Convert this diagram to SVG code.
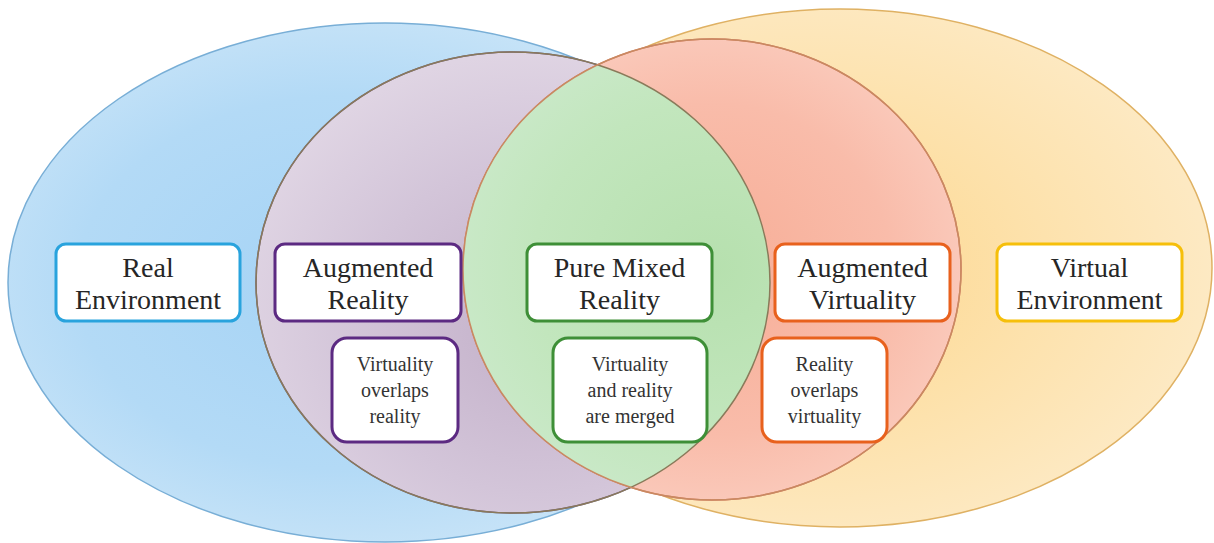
<svg xmlns="http://www.w3.org/2000/svg" width="1214" height="543" viewBox="0 0 1214 543">
  <defs>
    <radialGradient id="gBlue" cx="0.45" cy="0.5" r="0.6">
      <stop offset="0" stop-color="#a5d3f5"/>
      <stop offset="0.6" stop-color="#b3daf6"/>
      <stop offset="1" stop-color="#cfe7f8"/>
    </radialGradient>
    <radialGradient id="gYellow" cx="0.45" cy="0.5" r="0.6">
      <stop offset="0" stop-color="#fcd68c"/>
      <stop offset="0.5" stop-color="#fde1aa"/>
      <stop offset="1" stop-color="#fdebc8"/>
    </radialGradient>
    <radialGradient id="gPurple" cx="0.55" cy="0.6" r="0.6">
      <stop offset="0" stop-color="#c3b0c9"/>
      <stop offset="0.6" stop-color="#d3c5d9"/>
      <stop offset="1" stop-color="#dfd4e3"/>
    </radialGradient>
    <radialGradient id="gRed" cx="0.5" cy="0.5" r="0.6">
      <stop offset="0" stop-color="#f7ad96"/>
      <stop offset="0.6" stop-color="#f9bcaa"/>
      <stop offset="1" stop-color="#fbd0c3"/>
    </radialGradient>
    <radialGradient id="gGreen" cx="0.5" cy="0.5" r="0.6">
      <stop offset="0" stop-color="#b6e0ae"/>
      <stop offset="0.6" stop-color="#c2e6bd"/>
      <stop offset="1" stop-color="#cdeacd"/>
    </radialGradient>
    <clipPath id="clipPurple">
      <ellipse cx="513" cy="282.5" rx="257" ry="230.5"/>
    </clipPath>
  </defs>
  <style>
    .big { fill: #ffffff; stroke-width: 3; }
    .small { fill: #ffffff; stroke-width: 3; }
    .t1 { font-family: "Liberation Serif", "Times New Roman", serif; font-size: 28px; fill: #262626; text-anchor: middle; }
    .t2 { font-family: "Liberation Serif", "Times New Roman", serif; font-size: 20px; fill: #333333; text-anchor: middle; }
    .edge { fill: none; stroke-width: 1.5; }
  </style>
  <rect width="1214" height="543" fill="#ffffff"/>
  <g id="regions">
    <ellipse id="real-area" cx="385" cy="282.5" rx="377" ry="259.5" fill="url(#gBlue)" stroke="#78aed6" stroke-width="1.5"/>
    <ellipse id="virtual-area" cx="840" cy="268" rx="372" ry="259" fill="url(#gYellow)" stroke="#dfb163" stroke-width="1.5"/>
    <ellipse id="ar-area" cx="513" cy="282.5" rx="257" ry="230.5" fill="url(#gPurple)" stroke="#6e5a8c" stroke-width="1.5"/>
    <ellipse id="av-area" cx="712" cy="269.5" rx="249" ry="230.5" fill="url(#gRed)" stroke="#dd7c61" stroke-width="1.5"/>
    <g clip-path="url(#clipPurple)">
      <ellipse id="mr-area" cx="712" cy="269.5" rx="249" ry="230.5" fill="url(#gGreen)"/>
    </g>
    <ellipse class="edge" cx="513" cy="282.5" rx="257" ry="230.5" stroke="#8a7a5a"/>
    <ellipse class="edge" cx="712" cy="269.5" rx="249" ry="230.5" stroke="#c88a62"/>
  </g>
  <g id="real-environment">
    <rect class="big" x="56" y="244" width="184" height="77" rx="10" stroke="#29a3dd"/>
    <text class="t1" x="148" y="277">Real</text>
    <text class="t1" x="148" y="309">Environment</text>
  </g>
  <g id="augmented-reality">
    <rect class="big" x="275" y="244" width="186" height="77" rx="10" stroke="#5c2a82"/>
    <text class="t1" x="368" y="277">Augmented</text>
    <text class="t1" x="368" y="309">Reality</text>
  </g>
  <g id="pure-mixed-reality">
    <rect class="big" x="527" y="244" width="185" height="77" rx="10" stroke="#3e8f37"/>
    <text class="t1" x="619.5" y="277">Pure Mixed</text>
    <text class="t1" x="619.5" y="309">Reality</text>
  </g>
  <g id="augmented-virtuality">
    <rect class="big" x="775" y="244" width="175" height="77" rx="10" stroke="#e8611d"/>
    <text class="t1" x="862.5" y="277">Augmented</text>
    <text class="t1" x="862.5" y="309">Virtuality</text>
  </g>
  <g id="virtual-environment">
    <rect class="big" x="997" y="244" width="185" height="77" rx="10" stroke="#f6bf0a"/>
    <text class="t1" x="1089.5" y="277">Virtual</text>
    <text class="t1" x="1089.5" y="309">Environment</text>
  </g>
  <g id="ar-description">
    <rect class="small" x="332" y="338" width="126" height="104" rx="15" stroke="#5c2a82"/>
    <text class="t2" x="395" y="371">Virtuality</text>
    <text class="t2" x="395" y="397">overlaps</text>
    <text class="t2" x="395" y="423">reality</text>
  </g>
  <g id="mr-description">
    <rect class="small" x="553" y="338" width="154" height="104" rx="15" stroke="#3e8f37"/>
    <text class="t2" x="630" y="371">Virtuality</text>
    <text class="t2" x="630" y="397">and reality</text>
    <text class="t2" x="630" y="423">are merged</text>
  </g>
  <g id="av-description">
    <rect class="small" x="762" y="338" width="125" height="104" rx="15" stroke="#e8611d"/>
    <text class="t2" x="824.5" y="371">Reality</text>
    <text class="t2" x="824.5" y="397">overlaps</text>
    <text class="t2" x="824.5" y="423">virtuality</text>
  </g>
</svg>
